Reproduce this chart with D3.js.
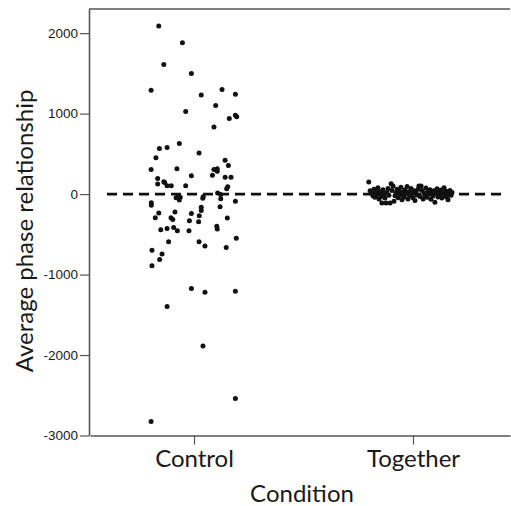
<!DOCTYPE html>
<html>
<head>
<meta charset="utf-8">
<script src="https://cdn.jsdelivr.net/npm/d3@7/dist/d3.min.js"></script>
<style>
  html, body { margin: 0; padding: 0; background: #fff; }
  svg { display: block; }
</style>
</head>
<body>
<svg id="chart" width="511" height="506"></svg>
<script>
// ---- DATA ----
const categories = ["Control", "Together"];
const yTicks = [-3000, -2000, -1000, 0, 1000, 2000];

// Control: values and horizontal jitter (in category units, offset from category centre)
const controlValues = [2090, 1880, 1610, 1500, 1290, 1230, 1300, 1240, 1100, 1025, 940, 980, 960, 835,
  565, 580, 630, 450, 510, 420, 355, 305, 315, 305, 315, 285, 235, 228, 210, 210, 195, 153, 145, 125,
  105, 105, 105, 90, 65, -30, -40, -45, -75, -33, -53, 12, -4, -58, -90, -108, -140, -158, -165, -203,
  -236, -295, -224, -240, -268, -295, -315, -332, -345, -298, -443, -427, -414, -455, -455, -400, -435,
  -592, -592, -646, -550, -663, -697, -746, -812, -892, -1173, -1219, -1206, -1397, -1887, -2540, -2827];
const controlJitter = [-0.161, -0.053, -0.138, -0.012, -0.196, 0.033, 0.128, 0.189, 0.099, -0.038, 0.161, 0.189, 0.195, 0.091,
  -0.158, -0.123, -0.067, -0.174, 0.023, 0.142, 0.157, -0.196, -0.078, 0.091, 0.106, 0.106, 0.084, -0.012, 0.142, 0.169, -0.166, -0.138, -0.134, -0.166,
  -0.123, -0.104, -0.038, 0.154, 0.149, -0.072, -0.063, -0.082, -0.067, 0.042, 0.040, 0.108, 0.122, 0.122, 0.189, -0.195, -0.195, 0.119, 0.033, 0.033,
  -0.161, -0.177, -0.087, -0.012, 0.024, -0.105, -0.097, -0.021, 0.021, 0.152, -0.152, -0.123, -0.093, -0.076, -0.023, 0.104, 0.106,
  -0.116, 0.023, 0.050, 0.193, 0.147, -0.192, -0.146, -0.157, -0.192, -0.012, 0.050, 0.189, -0.123, 0.041, 0.189, -0.196];

// Together: values and horizontal jitter
const togetherValues = [150, 40, 10, -20, 60, -40, 25, -5, 80, -60, 30, -30, -110, 55, 5, -50, -110, 20, 70, -15,
  -110, 128, 45, 100, -90, -20, 15, 60, -45, 35, -10, 85, -70, 25, -35, 50, 0, 95, -60, 30, -20, 70, 10, -45,
  40, -80, 20, -10, 60, 100, -30, 100, 45, -60, 15, -20, 75, -40, 30, 0, 55, -65, 20, -25, 40, -100, 10, 65,
  -35, 25, -10, 50, -50, 15, 80, -20, 35, -40, -70, 10, 45, -15, 20];
const togetherJitter = [-0.202, -0.196, -0.187, -0.183, -0.178, -0.174, -0.169, -0.164, -0.160, -0.155, -0.151, -0.146, -0.142, -0.137, -0.132, -0.128, -0.123, -0.119, -0.114, -0.110,
  -0.105, -0.100, -0.096, -0.091, -0.087, -0.082, -0.078, -0.073, -0.068, -0.064, -0.059, -0.055, -0.050, -0.046, -0.041, -0.037, -0.032, -0.027, -0.023, -0.018, -0.014, -0.009, -0.005, 0.000,
  0.005, 0.009, 0.014, 0.018, 0.023, 0.027, 0.032, 0.037, 0.041, 0.046, 0.050, 0.055, 0.059, 0.064, 0.068, 0.073, 0.078, 0.082, 0.087, 0.091, 0.096, 0.100, 0.105, 0.110,
  0.114, 0.119, 0.123, 0.128, 0.132, 0.137, 0.142, 0.146, 0.151, 0.155, 0.160, 0.164, 0.169, 0.174, 0.178];

// ---- DRAW ----
const svg = d3.select("#chart");
const pLeft = 89, pRight = 510, pTop = 9, pBottom = 435.5;

const x = d3.scaleLinear().domain([0.525, 2.443]).range([90, pRight]);
const y = d3.scaleLinear().domain([-3000, 2300]).range([pBottom, pTop]);

const axisColor = "#555";
const textColor = "#1a1a1a";
const titleFont = "Lato, 'Open Sans', sans-serif";

// frame top line
svg.append("line")
  .attr("x1", pLeft).attr("x2", pRight).attr("y1", pTop).attr("y2", pTop)
  .attr("stroke", axisColor).attr("stroke-width", 1.6);

// Y axis
const yAxis = svg.append("g")
  .attr("transform", `translate(${pLeft},0)`)
  .call(d3.axisLeft(y).tickValues(yTicks).tickSize(9).tickPadding(2).tickSizeOuter(0).tickFormat(d => String(d)));
yAxis.select(".domain").attr("stroke", axisColor).attr("stroke-width", 1.6);
yAxis.selectAll(".tick line").attr("stroke", axisColor).attr("stroke-width", 1.2);
yAxis.selectAll(".tick text")
  .attr("fill", textColor)
  .attr("font-size", 13.5)
  .style("font-family", "'Liberation Sans', Arial, sans-serif")
  .style("font-size", "13.5px");

// X axis
const xAxis = svg.append("g")
  .attr("transform", `translate(0,${pBottom})`)
  .call(d3.axisBottom(x).tickValues([1, 2]).tickSize(9).tickPadding(5).tickSizeOuter(0)
    .tickFormat(d => categories[d - 1]));
xAxis.select(".domain").attr("stroke", axisColor).attr("stroke-width", 1.6);
xAxis.selectAll(".tick line").attr("stroke", axisColor).attr("stroke-width", 1.2);
xAxis.selectAll(".tick text")
  .attr("fill", textColor)
  .style("font-family", titleFont)
  .style("font-size", "24px");

// reference line at 0
svg.append("line")
  .attr("x1", 107).attr("x2", 502)
  .attr("y1", y(0)).attr("y2", y(0))
  .attr("stroke", "#111").attr("stroke-width", 2.6)
  .attr("stroke-dasharray", "10,6");

// points
const groups = [
  { cat: 1, values: controlValues, jitter: controlJitter },
  { cat: 2, values: togetherValues, jitter: togetherJitter }
];
groups.forEach(g => {
  svg.append("g").selectAll("circle")
    .data(g.values.map((v, i) => ({ v, j: g.jitter[i] })))
    .join("circle")
    .attr("cx", d => x(g.cat + d.j))
    .attr("cy", d => y(d.v))
    .attr("r", 2.5)
    .attr("fill", "#111");
});

// axis titles
svg.append("text")
  .attr("transform", `translate(33,231) rotate(-90)`)
  .attr("text-anchor", "middle")
  .attr("fill", textColor)
  .style("font-family", titleFont)
  .style("font-size", "24px")
  .text("Average phase relationship");

svg.append("text")
  .attr("x", 302).attr("y", 502)
  .attr("text-anchor", "middle")
  .attr("fill", textColor)
  .style("font-family", titleFont)
  .style("font-size", "24px")
  .text("Condition");
</script>
</body>
</html>
